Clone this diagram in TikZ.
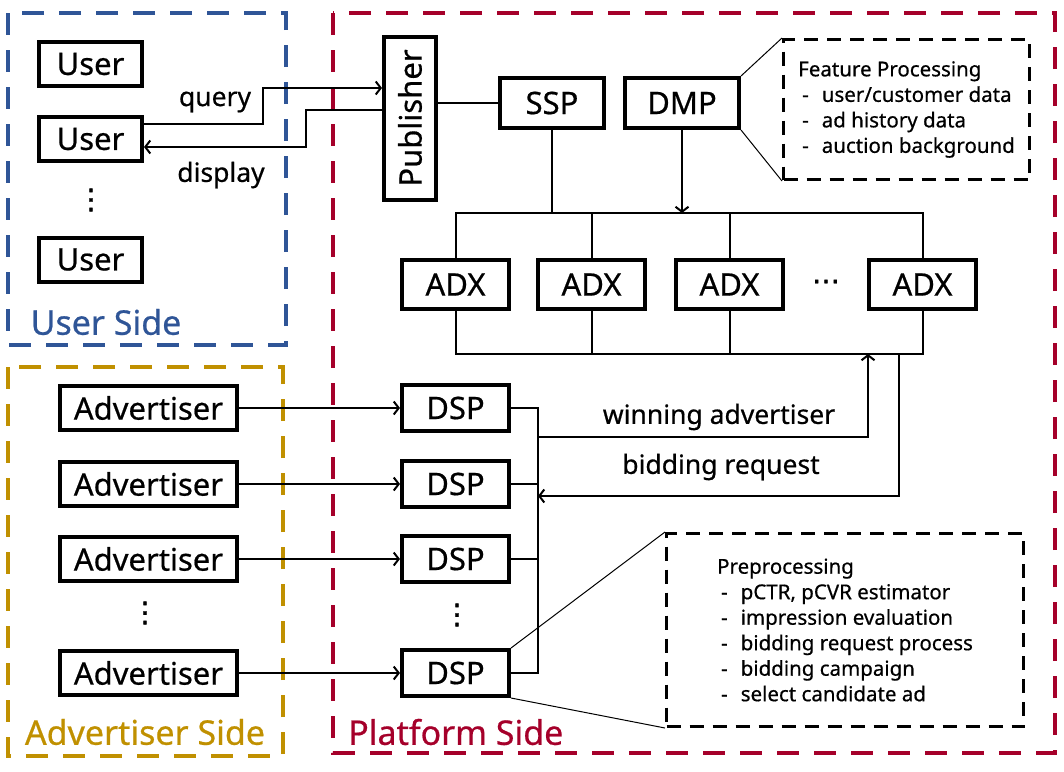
\documentclass[tikz,border=0pt]{standalone}
\usepackage{fontspec}
\setmainfont{Noto Sans}[FakeBold=0.6]
\newfontfamily\symfont{DejaVu Sans}[FakeBold=1.5]
\usepackage{graphicx}
\usepackage{xcolor}
\usepackage{tikz}
\usetikzlibrary{arrows.meta, positioning}
\definecolor{userblue}{HTML}{2F5597}
\definecolor{platred}{HTML}{A5002A}
\definecolor{advgold}{HTML}{C09000}
\newcommand{\dashitem}[1]{\hspace*{4pt}-\hspace{13pt}#1}
\tikzset{
  box/.style={rectangle, draw, line width=4pt, inner sep=0pt, minimum height=44pt, align=center, font=\fontsize{31}{36}\selectfont},
  arrow/.style={-{Straight Barb[length=5pt,width=13pt]}, line width=2pt},
  link/.style={line width=2pt},
  frame/.style={line width=4pt, dash pattern=on 22pt off 15pt},
  callout/.style={rectangle, draw, line width=3pt, dash pattern=on 14pt off 9pt, align=left, inner sep=0pt, font=\fontsize{20.5}{25.5}\selectfont},
  lbl/.style={font=\fontsize{26.5}{30}\selectfont, inner sep=0pt},
  side/.style={font=\fontsize{34}{40}\selectfont, inner sep=0pt},
  dots/.style={font=\symfont\fontsize{28}{32}\selectfont, inner sep=0pt},
}

\begin{document}
\begin{tikzpicture}[x=1pt, y=-1pt]
    \useasboundingbox (0,0) rectangle (1064,771);
    % three sides
    \draw[frame, userblue] (8,13) rectangle (286,345);
    \draw[frame, platred] (333,13) rectangle (1055,753);
    \draw[frame, advgold] (8,367) rectangle (283,756);
    \node[side, text=userblue] (userside) at (106,322) {User Side};
    \node[side, text=advgold] (advside) at (145,732) {Advertiser Side};
    \node[side, text=platred, anchor=west] (platside) at (348,732) {Platform Side};

    % user side
    \node[box, minimum width=103pt] (user1) at (90.5,64) {User};
    \node[box, minimum width=103pt] (user2) at (90.5,139) {User};
    \node[dots] (udots) at (91,200) {⋮};
    \node[box, minimum width=103pt] (user3) at (90.5,259.5) {User};

    % platform side, top
    \node[box, minimum width=52pt, minimum height=163pt] (pub) at (410,118) {\rotatebox{90}{Publisher}};
    \node[box, minimum width=104pt, minimum height=50pt] (ssp) at (552,103) {SSP};
    \node[box, minimum width=114pt, minimum height=50pt, right=17pt of ssp] (dmp) {DMP};
    \node[callout, minimum width=246pt, minimum height=140pt] (feat) at (906.5,109.5)
      {Feature Processing\\ \dashitem{user/customer data}\\ \dashitem{ad history data}\\ \dashitem{auction background}};
    \draw[line width=1pt] (dmp.north east) -- (feat.north west);
    \draw[line width=1pt] (dmp.south east) -- (feat.south west);

    \draw[arrow] ([yshift=15pt]user2.east) -- ++(119,0) |- ([yshift=30pt]pub.west);
    \draw[arrow] ([yshift=8pt]pub.west) -- ++(-76,0) |- ([yshift=-8pt]user2.east);
    \node[lbl] (query) at (215,102) {query};
    \node[lbl] (display) at (221,175) {display};
    \draw[link] (ssp.west) -- (ssp.west -| pub.east);

    % exchanges
    \node[box, minimum width=107pt, minimum height=49pt] (adx1) at (455.5,284.5) {ADX};
    \node[box, minimum width=107pt, minimum height=49pt, right=25pt of adx1] (adx2) {ADX};
    \node[box, minimum width=107pt, minimum height=49pt, right=27pt of adx2] (adx3) {ADX};
    \node[box, minimum width=107pt, minimum height=49pt, right=82pt of adx3] (adx4) {ADX};
    \node[dots] (adots) at (826,285) {⋯};
    \coordinate (tbus) at (0,213);
    \coordinate (bbus) at (0,354);
    \draw[link] (adx1.north) |- (tbus -| adx4.north) -- (adx4.north);
    \draw[link] (adx2.north) -- (adx2.north |- tbus);
    \draw[link] (adx3.north) -- (adx3.north |- tbus);
    \draw[link] (ssp.south) -- (ssp.south |- tbus);
    \draw[arrow] (dmp.south) -- (dmp.south |- tbus);
    \draw[link] (adx1.south) |- (bbus -| adx4.south) -- (adx4.south);
    \draw[link] (adx2.south) -- (adx2.south |- bbus);
    \draw[link] (adx3.south) -- (adx3.south |- bbus);

    % demand side
    \node[box, minimum width=107pt, minimum height=46pt] (dsp1) at (455.5,408) {DSP};
    \node[box, minimum width=107pt, minimum height=46pt, below=26pt of dsp1] (dsp2) {DSP};
    \node[box, minimum width=107pt, minimum height=46pt, below=25pt of dsp2] (dsp3) {DSP};
    \node[dots] (ddots) at (457,615) {⋮};
    \node[box, minimum width=107pt, minimum height=46pt, below=64pt of dsp3] (dsp4) {DSP};
    \node[box, minimum width=177pt, left=161pt of dsp1] (adv1) {Advertiser};
    \node[box, minimum width=177pt, left=161pt of dsp2] (adv2) {Advertiser};
    \node[box, minimum width=177pt, left=161pt of dsp3] (adv3) {Advertiser};
    \node[dots] (avdots) at (145,613) {⋮};
    \node[box, minimum width=177pt, left=161pt of dsp4] (adv4) {Advertiser};
    \draw[arrow] (adv1) -- (dsp1);
    \draw[arrow] (adv2) -- (dsp2);
    \draw[arrow] (adv3) -- (dsp3);
    \draw[arrow] (adv4) -- (dsp4);

    \coordinate (dbus) at (538,0);
    \draw[link] (dsp1.east) -- (dsp1.east -| dbus) -- (dsp4.east -| dbus) -- (dsp4.east);
    \draw[link] (dsp2.east) -- (dsp2.east -| dbus);
    \draw[link] (dsp3.east) -- (dsp3.east -| dbus);
    \coordinate (win) at (538,437);
    \coordinate (winup) at (868,354);
    \coordinate (bid) at (538,496);
    \coordinate (bidtop) at (899,354);
    \draw[arrow] (win) -| (winup);
    \draw[arrow] (bidtop) |- (bid);
    \node[lbl] (winlbl) at (719,417) {winning advertiser};
    \node[lbl] (bidlbl) at (721,467) {bidding request};

    \node[callout, minimum width=357pt, minimum height=193pt] (pre) at (845,630)
      {Preprocessing\\ \dashitem{pCTR, pCVR estimator}\\ \dashitem{impression evaluation}\\ \dashitem{bidding request process}\\ \dashitem{bidding campaign}\\ \dashitem{select candidate ad}};
    \draw[line width=1pt] (dsp4.north east) -- (pre.north west);
    \draw[line width=1pt] (dsp4.south east) -- (pre.south west);
\end{tikzpicture}
\end{document}
